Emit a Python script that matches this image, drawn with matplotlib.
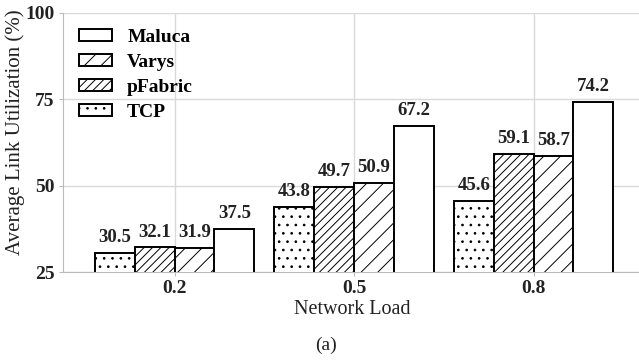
import matplotlib.pyplot as plt
import numpy as np

plt.rcParams['font.family'] = ['Liberation Serif', 'DejaVu Serif']
plt.rcParams['hatch.linewidth'] = 0.7

# -------------------------------
# DATA
# -------------------------------
loads = ["0.2", "0.5", "0.8"]

tcp = [30.5, 43.8, 45.6]
pfabric = [32.1, 49.7, 59.1]
varys = [31.9, 50.9, 58.7]
maluca = [37.5, 67.2, 74.2]

# -------------------------------
# GRAPH
# -------------------------------
fig = plt.figure(figsize=(6.39, 3.62), dpi=100)
ax = fig.add_axes([0.0986, 0.2486, 0.905, 0.7155])

x = np.arange(len(loads))
w = 0.222

series = [
    (tcp, "TCP", ".."),
    (pfabric, "pFabric", "////"),
    (varys, "Varys", "//"),
    (maluca, "Maluca", ""),
]

handles = {}
for i, (vals, name, hatch) in enumerate(series):
    bars = ax.bar(x + (i - 1.5) * w, vals, w, color="white", edgecolor="black",
                  linewidth=1.4, hatch=hatch, zorder=3, label=name)
    handles[name] = bars
    for b in bars:
        ax.annotate(f"{b.get_height():.1f}",
                    (b.get_x() + b.get_width() / 2, b.get_height()),
                    xytext=(0, 5), textcoords="offset points",
                    ha="center", va="bottom", fontsize=13.5, fontweight="bold",
                    color="#222222")

ax.set_ylim(25, 100)
ax.set_yticks([25, 50, 75, 100])
ax.set_xlim(-0.622, 2.6)
ax.set_xticks(x)
ax.set_xticklabels(loads)

for lab in ax.get_xticklabels() + ax.get_yticklabels():
    lab.set_fontweight("bold")
    lab.set_fontsize(14)
    lab.set_color("#222222")

ax.tick_params(axis="both", color="#bbbbbb", length=3, pad=3)
ax.grid(True, color="#d9d9d9", linewidth=1, zorder=0)
ax.set_axisbelow(True)
for s in ["top", "right"]:
    ax.spines[s].set_visible(False)
for s in ["left", "bottom"]:
    ax.spines[s].set_color("#bbbbbb")

ax.set_xlabel("Network Load", fontsize=14.5, labelpad=2, color="#222222")
ax.set_ylabel("Average Link Utilization (%)", fontsize=15, color="#222222")
ax.yaxis.set_label_coords(-0.066, 0.54)

order = ["Maluca", "Varys", "pFabric", "TCP"]
leg = ax.legend([handles[n] for n in order], order, loc="upper left",
                frameon=False, prop={"weight": "bold", "size": 14},
                handlelength=1.7, handleheight=0.55, labelspacing=0.42,
                handletextpad=0.8, borderaxespad=0.4)

fig.text(0.51, 0.047, "(a)", ha="center", va="center", fontsize=14, color="#222222")

fig.savefig("out.png", dpi=100)
